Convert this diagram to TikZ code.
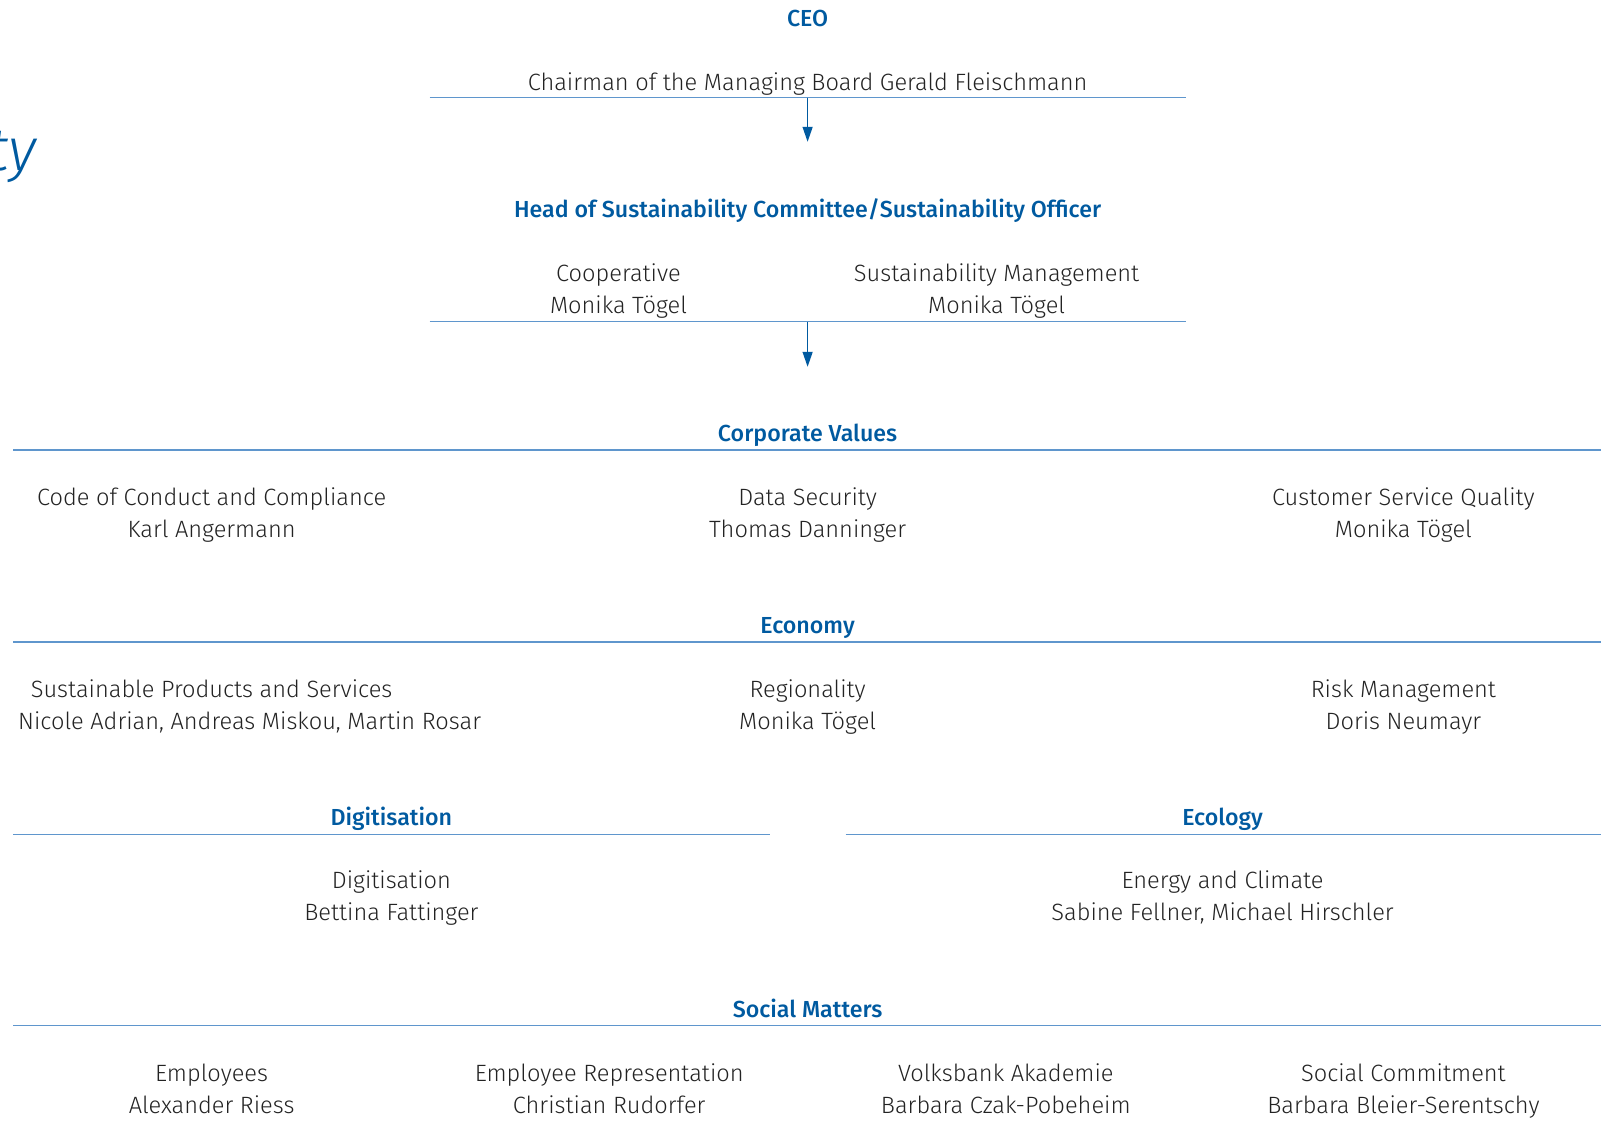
\documentclass[tikz,border=0pt]{standalone}
\usepackage{fontspec}
\setmainfont{Fira Sans Light}[BoldFont={Fira Sans Medium}, ItalicFont={Fira Sans Light Italic}]
\usetikzlibrary{arrows.meta}
\definecolor{headblue}{RGB}{0,90,160}
\definecolor{ruleblue}{RGB}{95,150,205}
\definecolor{textgrey}{RGB}{35,35,35}

\begin{document}
\begin{tikzpicture}[x=0.5pt, y=-0.5pt,
  head/.style={font=\fontsize{11.6}{13}\selectfont\bfseries, text=headblue, anchor=base, inner sep=0pt},
  item/.style={font=\fontsize{11.8}{15.9}\selectfont, text=textgrey, align=center, anchor=base, inner sep=0pt},
  rule/.style={ruleblue, line width=0.7pt},
  link/.style={headblue, line width=0.7pt, -{Triangle[length=7.5pt, width=5pt]}}]
	\useasboundingbox (0,0) rectangle (1611,1121);
	\node [anchor=base east, inner sep=0pt, text=headblue, font=\fontsize{30}{30}\selectfont\itshape] (tag) at (37,170) {ty};
	% management
	\node [head] (ceo) at (807.6,26) {CEO};
	\node [item] (chair) at (807.6,90) {Chairman of the Managing Board Gerald Fleischmann};
	\coordinate (ceoW) at (429.5,97.6);
	\coordinate (ceoE) at (1185.6,97.6);
	\coordinate (ceoA) at (807.6,97.6);
	\coordinate (ceoB) at (807.6,141.8);
	\draw [rule] (ceoW) -- (ceoE);
	\draw [link] (ceoA) -- (ceoB);
	\node [head] (officer) at (807.6,217) {Head of Sustainability Committee/Sustainability Officer};
	\node [item] (coop) at (618.5,313.4) {Cooperative\\Monika Tögel};
	\node [item] (susmgmt) at (996.6,313.4) {Sustainability Management\\Monika Tögel};
	\coordinate (offW) at (429.5,321.6);
	\coordinate (offE) at (1185.6,321.6);
	\coordinate (offA) at (807.6,321.6);
	\coordinate (offB) at (807.6,366.8);
	\draw [rule] (offW) -- (offE);
	\draw [link] (offA) -- (offB);
	% corporate values
	\node [head] (values) at (807.6,441.3) {Corporate Values};
	\coordinate (valW) at (13.4,450);
	\coordinate (valE) at (1600.7,450);
	\draw [rule] (valW) -- (valE);
	\node [item] (conduct) at (211.6,537.3) {Code of Conduct and Compliance\\Karl Angermann};
	\node [item] (datasec) at (807.6,537.3) {Data Security\\Thomas Danninger};
	\node [item] (service) at (1403.4,537.3) {Customer Service Quality\\Monika Tögel};
	% economy
	\node [head] (economy) at (807.6,633.4) {Economy};
	\coordinate (ecoW) at (13.4,642.1);
	\coordinate (ecoE) at (1600.7,642.1);
	\draw [rule] (ecoW) -- (ecoE);
	\node [item] (products) at (211.6,697.6) {Sustainable Products and Services};
	\node [item] (productsN) at (249.6,729.5) {Nicole Adrian, Andreas Miskou, Martin Rosar};
	\node [item] (region) at (807.6,729.5) {Regionality\\Monika Tögel};
	\node [item] (risk) at (1403.4,729.5) {Risk Management\\Doris Neumayr};
	% digitisation and ecology
	\node [head] (digi) at (391.4,825.5) {Digitisation};
	\node [head] (ecology) at (1222.6,825.5) {Ecology};
	\coordinate (digW) at (13.4,834.2);
	\coordinate (digE) at (769.5,834.2);
	\coordinate (ecolW) at (845.5,834.2);
	\coordinate (ecolE) at (1600.7,834.2);
	\draw [rule] (digW) -- (digE);
	\draw [rule] (ecolW) -- (ecolE);
	\node [item] (digiItem) at (391.4,920.6) {Digitisation\\Bettina Fattinger};
	\node [item] (energy) at (1222.6,920.6) {Energy and Climate\\Sabine Fellner, Michael Hirschler};
	% social matters
	\node [head] (social) at (807.6,1017.6) {Social Matters};
	\coordinate (socW) at (13.4,1025.3);
	\coordinate (socE) at (1600.7,1025.3);
	\draw [rule] (socW) -- (socE);
	\node [item] (staff) at (211.6,1113.7) {Employees\\Alexander Riess};
	\node [item] (staffrep) at (609.2,1113.7) {Employee Representation\\Christian Rudorfer};
	\node [item] (akademie) at (1005.8,1113.7) {Volksbank Akademie\\Barbara Czak-Pobeheim};
	\node [item] (commit) at (1403.4,1113.7) {Social Commitment\\Barbara Bleier-Serentschy};
\end{tikzpicture}
\end{document}
